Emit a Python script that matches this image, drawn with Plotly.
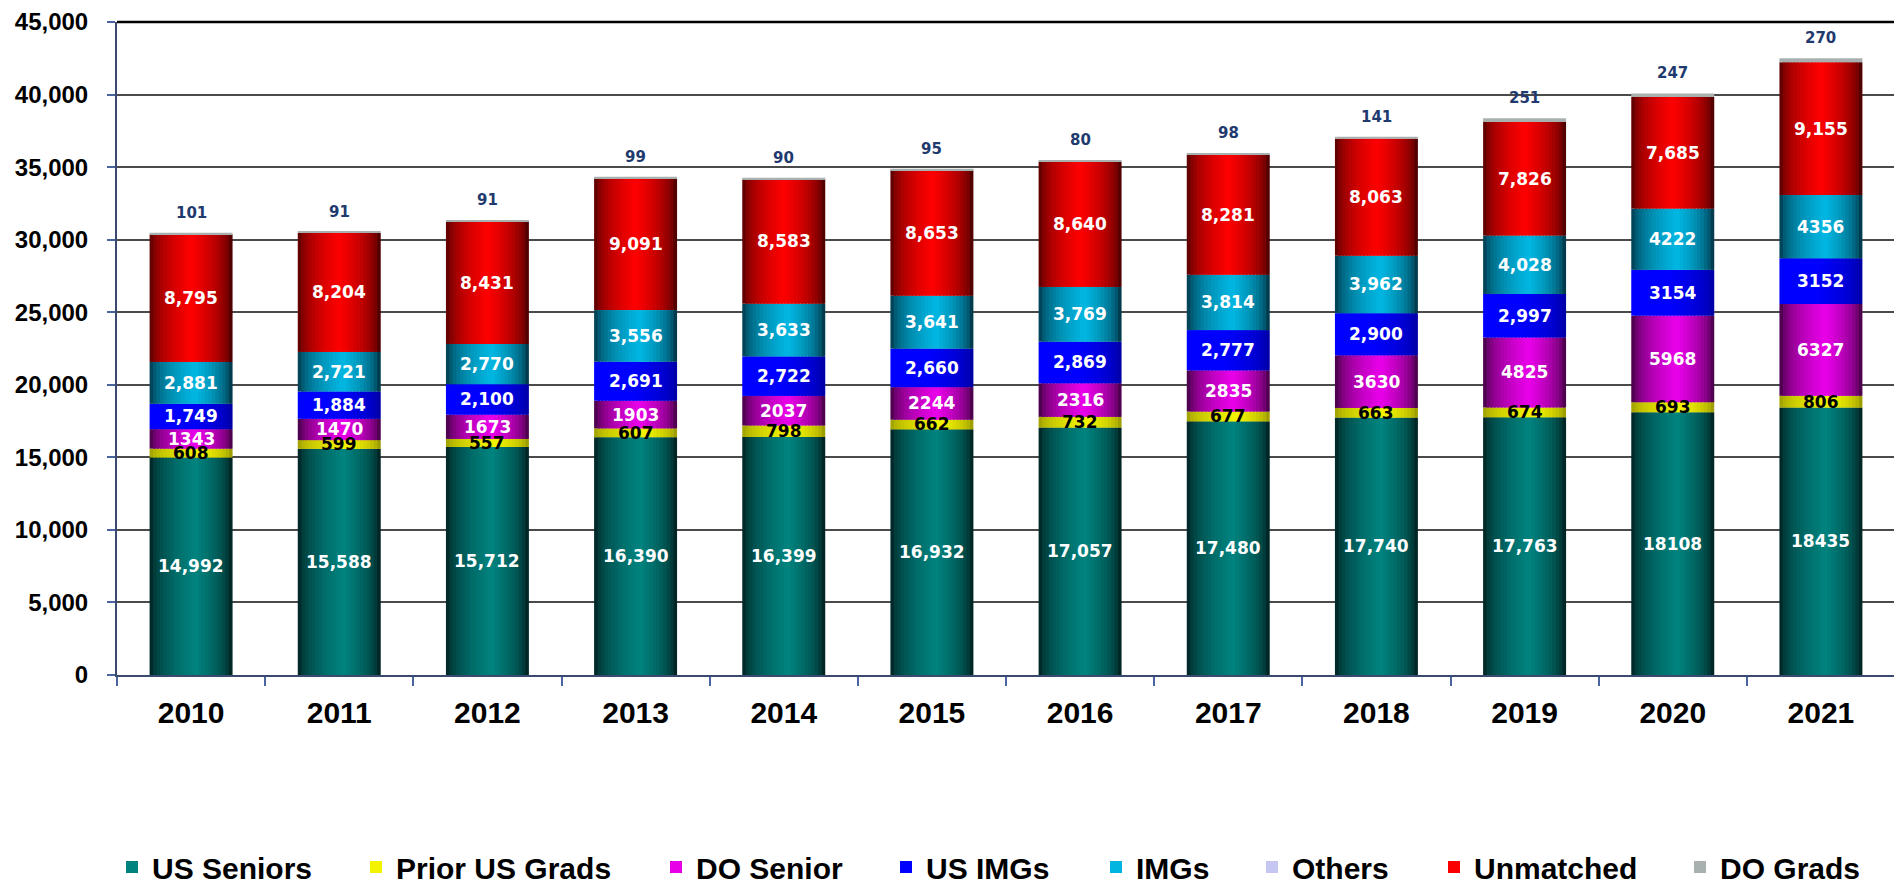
import plotly.graph_objects as go
import numpy as np

years = ['2010', '2011', '2012', '2013', '2014', '2015', '2016', '2017', '2018', '2019', '2020', '2021']

us_seniors = [14992, 15588, 15712, 16390, 16399, 16932, 17057, 17480, 17740, 17763, 18108, 18435]
prior_us_grads = [608, 599, 557, 607, 798, 662, 732, 677, 663, 674, 693, 806]
do_senior = [1343, 1470, 1673, 1903, 2037, 2244, 2316, 2835, 3630, 4825, 5968, 6327]
us_imgs = [1749, 1884, 2100, 2691, 2722, 2660, 2869, 2777, 2900, 2997, 3154, 3152]
imgs = [2881, 2721, 2770, 3556, 3633, 3641, 3769, 3814, 3962, 4028, 4222, 4356]
others = [0, 0, 0, 0, 0, 0, 0, 0, 0, 0, 0, 0]
unmatched = [8795, 8204, 8431, 9091, 8583, 8653, 8640, 8281, 8063, 7826, 7685, 9155]
do_grads = [101, 91, 91, 99, 90, 95, 80, 98, 141, 251, 247, 270]

y_ticks = [0, 5000, 10000, 15000, 20000, 25000, 30000, 35000, 40000, 45000]

# whether the value label uses a thousands separator, per year
comma_std = [True] * 10 + [False] * 2
comma_never = [False] * 12
comma_always = [True] * 12

# name, values, (left edge, peak, right edge, peak position), label colour, comma flags
series = [
    ("US Seniors", us_seniors, ("#000a0a", "#008480", "#000000", 0.55), "white", comma_std),
    ("Prior US Grads", prior_us_grads, ("#8a8a00", "#f4f400", "#7a7a00", 0.6), "black", comma_std),
    ("DO Senior", do_senior, ("#180018", "#ea00ea", "#100010", 0.55), "white", comma_never),
    ("US IMGs", us_imgs, ("#0000ff", "#0000ff", "#000088", 0.45), "white", comma_std),
    ("IMGs", imgs, ("#001a26", "#00b8e4", "#000a10", 0.55), "white", comma_std),
    ("Others", others, ("#6a6a8a", "#c8c8f4", "#6a6a8a", 0.5), "white", comma_std),
    ("Unmatched", unmatched, ("#2a0000", "#ff0000", "#100000", 0.5), "white", comma_always),
]

# page geometry (the page body adds an 8px offset)
PAGE_OFF = 8
FIG_W, FIG_H = 1902, 883
M_L, M_R, M_T, M_B = 109, 15, 14, 216

# screen x where each legend label text starts, and the legend row's centre
legend_text_px = [152, 396, 696, 926, 1136, 1292, 1474, 1720]
LEGEND_TEXT_Y_PX = 867

BAR_W = 0.56
N_STRIPS = 24
FONT = "Arial, Liberation Sans, sans-serif"
LABEL_FONT = "DejaVu Sans, Verdana, sans-serif"


def hex2rgb(h):
    h = h.lstrip('#')
    return np.array([int(h[i:i + 2], 16) for i in (0, 2, 4)], dtype=float)


def strip_color(grad, t):
    left, peak, right, p = grad
    L, P, R = hex2rgb(left), hex2rgb(peak), hex2rgb(right)
    if t <= p:
        f = (t / p) ** 0.4
        c = L + (P - L) * f
    else:
        f = ((1 - t) / (1 - p)) ** 0.4
        c = R + (P - R) * f
    c = np.clip(c, 0, 255).astype(int)
    return f"rgb({c[0]},{c[1]},{c[2]})"


def legend_id(k):
    return "legend" if k == 0 else f"legend{k + 1}"


fig = go.Figure()
base = np.zeros(len(years))
annotations = []
idx = list(range(len(years)))

for k, (name, vals, grad, lab_col, commas) in enumerate(series):
    vals = np.array(vals, dtype=float)
    sw = BAR_W / N_STRIPS
    for i in range(N_STRIPS):
        t = (i + 0.5) / N_STRIPS
        col = strip_color(grad, t)
        show = (i == int(N_STRIPS * grad[3]))
        w = sw * 1.7 if i < N_STRIPS - 1 else sw
        fig.add_trace(go.Bar(
            x=years, y=vals, base=base.copy(),
            offset=-BAR_W / 2 + i * sw, width=w,
            marker=dict(color=col, line=dict(width=0)),
            name=name, legendgroup=name, showlegend=show, legend=legend_id(k),
            hoverinfo='skip',
        ))
    for j, v in enumerate(vals):
        if v <= 0:
            continue
        txt = f"{int(v):,}" if commas[j] else f"{int(v)}"
        annotations.append(dict(
            x=idx[j], y=base[j] + v / 2, text=f"<b>{txt}</b>", showarrow=False,
            font=dict(family=LABEL_FONT, size=17, color=lab_col),
        ))
    base = base + vals

# DO Grads: thin grey cap on top
k_do = len(series)
fig.add_trace(go.Bar(
    x=years, y=do_grads, base=base.copy(), width=BAR_W,
    marker=dict(color="#a9b0b0", line=dict(width=0)),
    name="DO Grads", legendgroup="DO Grads", legend=legend_id(k_do), hoverinfo='skip',
))
top = base + np.array(do_grads, dtype=float)
for j, v in enumerate(do_grads):
    annotations.append(dict(
        x=idx[j], y=top[j], yshift=20, text=f"<b>{v}</b>", showarrow=False,
        font=dict(family=LABEL_FONT, size=15, color="#1f3a6e"),
    ))

legends = {}
for k, px in enumerate(legend_text_px):
    legends[legend_id(k)] = dict(
        orientation='h', xref='container', yref='container',
        x=(px - PAGE_OFF - 40) / FIG_W, xanchor='left',
        y=1 - (LEGEND_TEXT_Y_PX - PAGE_OFF) / FIG_H, yanchor='middle',
        font=dict(family=FONT, size=30, color="black", weight='bold'),
        bgcolor='rgba(0,0,0,0)', borderwidth=0,
    )

fig.update_layout(
    width=FIG_W, height=FIG_H,
    barmode='overlay',
    plot_bgcolor='white', paper_bgcolor='white',
    margin=dict(l=M_L, r=M_R, t=M_T, b=M_B, autoexpand=False),
    font=dict(family=FONT, color="black"),
    showlegend=True,
    annotations=annotations,
    shapes=[
        dict(type='line', xref='paper', yref='paper', x0=0, x1=1, y0=1, y1=1,
             line=dict(color='black', width=2.5)),
        dict(type='line', xref='paper', yref='paper', x0=1, x1=1, y0=0, y1=1,
             line=dict(color='black', width=2)),
    ],
    **legends,
)

fig.update_xaxes(
    type='category', range=[-0.5, 11.5], automargin=False,
    showline=True, linecolor='#3a4a6e', linewidth=2,
    ticks='outside', tickson='boundaries', ticklen=9, tickcolor='#4a64a0', tickwidth=1.5,
    tickfont=dict(family=FONT, size=30, color='black', weight='bold'),
    ticklabelstandoff=10, ticklabeloverflow='allow',
    showgrid=False, zeroline=False,
)

fig.update_yaxes(
    range=[0, 45000], tickvals=y_ticks, ticktext=[f"{v:,}" for v in y_ticks],
    automargin=False,
    showline=True, linecolor='#3a4a6e', linewidth=2,
    ticks='outside', ticklen=8, tickcolor='#4a64a0', tickwidth=1.5,
    tickfont=dict(family=FONT, size=24, color='black', weight='bold'),
    ticklabelstandoff=14, ticklabeloverflow='allow',
    showgrid=True, gridcolor='#4a4a4a', gridwidth=1.5,
    zeroline=False,
)

fig.write_html("out.html")
